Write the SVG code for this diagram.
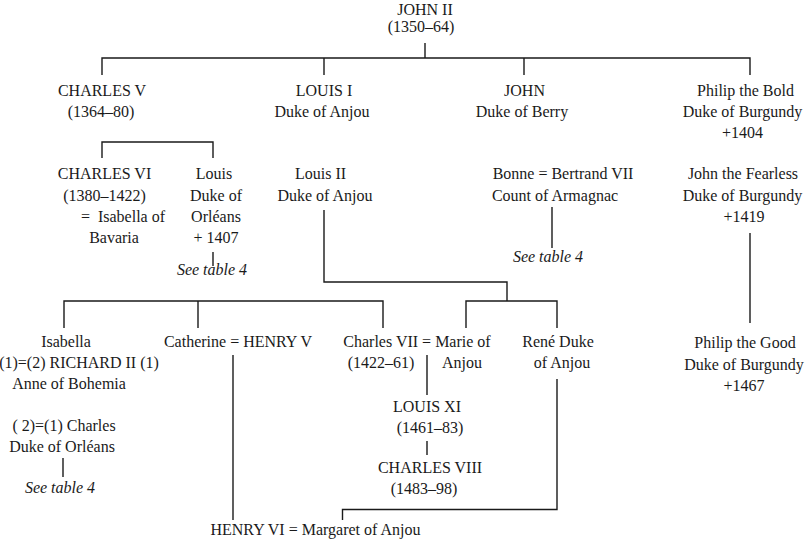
<svg xmlns="http://www.w3.org/2000/svg" width="805" height="539" viewBox="0 0 805 539">
<style>
text{font-family:'Liberation Serif','Times New Roman','DejaVu Serif',serif;font-size:16px;fill:#1a1a1a;text-anchor:middle}
.it{font-style:italic}
.ln{fill:none;stroke:#1a1a1a;stroke-width:1.4}
</style>
<rect width="805" height="539" fill="#fff"/>
<g id="connectors" class="ln">
<path d="M425 43V58M102 75V58H750V75M324 58V75M524 58V75"/>
<path d="M102 158V142H213V158"/>
<path d="M213 252V266"/>
<path d="M324 210V282H507V301"/>
<path d="M466 328V301H557V328"/>
<path d="M64 328V301H383V328M198 301V328"/>
<path d="M552 207V248"/>
<path d="M750 233V323"/>
<path d="M63 458V477"/>
<path d="M233 355V520"/>
<path d="M427 355V395M427 441V455"/>
<path d="M557 379V509.5H342.5V520"/>
</g>
<g id="john2"><text x="425" y="15">JOHN II</text><text x="421" y="32">(1350–64)</text></g>
<g id="charles5"><text x="102" y="95.5">CHARLES V</text><text x="101" y="117">(1364–80)</text></g>
<g id="louis1"><text x="324" y="95.5">LOUIS I</text><text x="322" y="117">Duke of Anjou</text></g>
<g id="johnberry"><text x="524.5" y="95.5">JOHN</text><text x="522" y="117">Duke of Berry</text></g>
<g id="philipbold"><text x="745.5" y="95.5">Philip the Bold</text><text x="742.5" y="117">Duke of Burgundy</text><text x="742.5" y="138">+1404</text></g>
<g id="charles6"><text x="104.5" y="179">CHARLES VI</text><text x="104.5" y="200.5">(1380–1422)</text><text x="123" y="222">=&#160; Isabella of</text><text x="114" y="243">Bavaria</text></g>
<g id="louisorleans"><text x="214" y="179">Louis</text><text x="216" y="200.5">Duke of</text><text x="216" y="222">Orléans</text><text x="216" y="243">+ 1407</text></g>
<g id="seetable1"><text class="it" x="212" y="275">See table 4</text></g>
<g id="louis2"><text x="320.5" y="179">Louis II</text><text x="325" y="200.5">Duke of Anjou</text></g>
<g id="bonne"><text x="563" y="179">Bonne = Bertrand VII</text><text x="555" y="200.5">Count of Armagnac</text></g>
<g id="seetable2"><text class="it" x="548" y="262">See table 4</text></g>
<g id="johnfearless"><text x="743" y="179">John the Fearless</text><text x="742.5" y="200.5">Duke of Burgundy</text><text x="744" y="222">+1419</text></g>
<g id="isabella"><text x="66" y="346.5">Isabella</text><text x="79" y="368">(1)=(2) RICHARD II (1)</text><text x="69" y="389">Anne of Bohemia</text><text x="64" y="431">( 2)=(1) Charles</text><text x="62" y="452">Duke of Orléans</text></g>
<g id="seetable3"><text class="it" x="60" y="493">See table 4</text></g>
<g id="catherine"><text x="238" y="346.5">Catherine = HENRY V</text></g>
<g id="charles7"><text x="417" y="346.5">Charles VII = Marie of</text><text x="381" y="368">(1422–61)</text><text x="462" y="368">Anjou</text></g>
<g id="rene"><text x="558" y="346.5">René Duke</text><text x="562" y="368">of Anjou</text></g>
<g id="louis11"><text x="427" y="411.5">LOUIS XI</text><text x="430" y="433">(1461–83)</text></g>
<g id="charles8"><text x="430" y="473">CHARLES VIII</text><text x="424" y="494">(1483–98)</text></g>
<g id="philipgood"><text x="745" y="348">Philip the Good</text><text x="744" y="369.5">Duke of Burgundy</text><text x="744" y="391">+1467</text></g>
<g id="henry6"><text x="315.5" y="535">HENRY VI = Margaret of Anjou</text></g>
</svg>
